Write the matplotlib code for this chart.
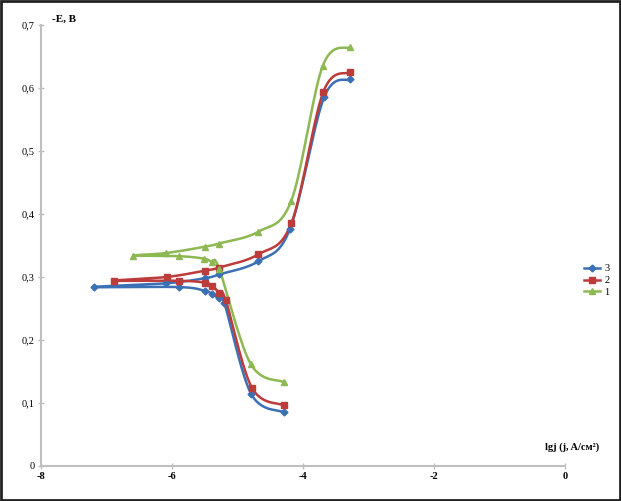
import numpy as np
import matplotlib
matplotlib.use('Agg')
import matplotlib.pyplot as plt
from matplotlib.patches import Rectangle
from matplotlib.ticker import FuncFormatter

# lgj / -E values, lower (cathodic) branch then upper (anodic)
s3_low_x = [-4.29, -4.79, -5.20, -5.29, -5.39, -5.50, -5.89, -7.19]
s3_low_y = [0.085, 0.114, 0.258, 0.266, 0.273, 0.278, 0.284, 0.284]
s3_up_x = [-6.09, -5.50, -5.28, -4.68, -4.20, -3.68, -3.28]
s3_up_y = [0.290, 0.298, 0.304, 0.325, 0.376, 0.585, 0.614]

s2_low_x = [-4.29, -4.78, -5.18, -5.28, -5.39, -5.50, -5.89, -6.89]
s2_low_y = [0.096, 0.124, 0.263, 0.275, 0.286, 0.291, 0.294, 0.294]
s2_up_x = [-6.08, -5.50, -5.28, -4.68, -4.18, -3.69, -3.28]
s2_up_y = [0.300, 0.310, 0.315, 0.336, 0.385, 0.594, 0.625]

s1_low_x = [-4.29, -4.80, -5.28, -5.39, -5.51, -5.89, -6.59]
s1_low_y = [0.133, 0.162, 0.313, 0.323, 0.329, 0.333, 0.334]
s1_up_x = [-6.09, -5.50, -5.29, -4.68, -4.18, -3.70, -3.28]
s1_up_y = [0.338, 0.348, 0.353, 0.372, 0.421, 0.635, 0.665]

labels = ['3', '2', '1']
colors = ['#3b70b5', '#be3b3b', '#8db852']
markers = ['D', 's', '^']
msizes = [3.5, 5, 5]

XLIM = (-8, 0)
YLIM = (0, 0.7)


def smooth(x, y, sx=65.5, sy=630.0, n=20):
    """Excel-like smoothed line (Catmull-Rom as cubic Bezier), done in pixel-ish space."""
    px = np.asarray(x) * sx
    py = np.asarray(y) * sy
    P = np.column_stack([px, py])
    out = [P[0]]
    t = np.linspace(0, 1, n)[1:]
    for i in range(len(P) - 1):
        p0 = P[i - 1] if i > 0 else P[i]
        p3 = P[i + 2] if i + 2 < len(P) else P[i + 1]
        c1 = P[i] + (P[i + 1] - p0) / 6.0
        c2 = P[i + 1] - (p3 - P[i]) / 6.0
        for tt in t:
            b = ((1 - tt) ** 3 * P[i] + 3 * (1 - tt) ** 2 * tt * c1
                 + 3 * (1 - tt) * tt ** 2 * c2 + tt ** 3 * P[i + 1])
            out.append(b)
    out = np.array(out)
    return out[:, 0] / sx, out[:, 1] / sy


fig = plt.figure(figsize=(6.21, 5.01), dpi=100)
ax = fig.add_axes([0.066, 0.070, 0.844, 0.880])

series = [(s3_low_x, s3_low_y, s3_up_x, s3_up_y),
          (s2_low_x, s2_low_y, s2_up_x, s2_up_y),
          (s1_low_x, s1_low_y, s1_up_x, s1_up_y)]

for (lx, ly, ux, uy), lab, c, m, ms in zip(series, labels, colors, markers, msizes):
    xs = list(lx) + list(ux)
    ys = list(ly) + list(uy)
    sx_, sy_ = smooth(xs, ys)
    ax.plot(sx_, sy_, color=c, lw=1.8, zorder=2)
    ax.plot(xs, ys, linestyle='none', marker=m, ms=ms, color=c, zorder=3)
    ax.plot([], [], color=c, lw=1.8, marker=m, ms=ms, label=lab)

ax.set_xlim(*XLIM)
ax.set_ylim(*YLIM)
ax.set_xticks([-8, -6, -4, -2, 0])
ax.set_yticks(np.arange(0, 0.71, 0.1))

ax.yaxis.set_major_formatter(FuncFormatter(
    lambda v, p: '0' if abs(v) < 1e-9 else ('%.1f' % v).replace('.', ',')))
ax.xaxis.set_major_formatter(FuncFormatter(lambda v, p: '%d' % v))

for s in ['top', 'right']:
    ax.spines[s].set_visible(False)
for s in ['left', 'bottom']:
    ax.spines[s].set_color('#bfbfbf')
    ax.spines[s].set_linewidth(1.5)
ax.tick_params(direction='inout', length=5, width=1, color='#bfbfbf',
               labelsize=7.5, pad=2)
for t in ax.get_xticklabels():
    t.set_fontweight('bold')
    t.set_family('Liberation Serif')
for t in ax.get_yticklabels():
    t.set_family('Liberation Serif')

fig.text(0.084, 0.962, '-E, B', fontsize=8, fontweight='bold',
         family='Liberation Serif', va='center')
fig.text(0.877, 0.108, 'lgj (j, A/см²)', fontsize=7.5, fontweight='bold',
         family='Liberation Serif', va='center')

ax.legend(loc='center left', bbox_to_anchor=(0.925, 0.44), bbox_transform=fig.transFigure,
          frameon=False, handlelength=1.6, handletextpad=0.4, labelspacing=0.25,
          prop={'family': 'Liberation Serif', 'size': 7.5})

fig.patches.append(Rectangle((0.002, 0.002), 0.996, 0.996, transform=fig.transFigure,
                             fill=False, edgecolor='#222222', lw=2))

fig.savefig('out.png', dpi=100)
